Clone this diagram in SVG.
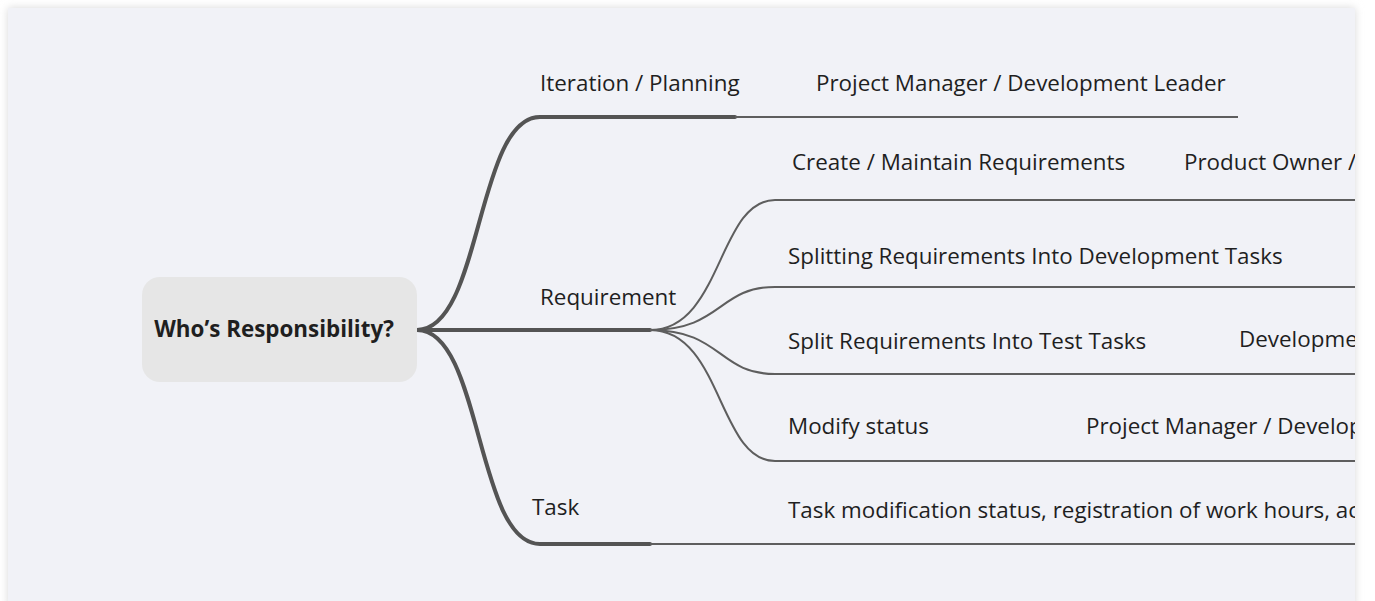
<svg xmlns="http://www.w3.org/2000/svg" width="1375" height="601" viewBox="0 0 1375 601">
<defs>
<style>
.t{font-family:"Open Sans","Noto Sans","DejaVu Sans",sans-serif;font-size:22.4px;fill:#1f1f1f}
.b{font-weight:bold;font-size:22.4px}
.thick{fill:none;stroke:#545454;stroke-width:4;stroke-linecap:round}
.thin{fill:none;stroke:#5e5e5e;stroke-width:2}
</style>
<clipPath id="clip"><rect x="8" y="8" width="1347" height="593"/></clipPath>
<filter id="sh" x="-5%" y="-5%" width="110%" height="110%"><feGaussianBlur stdDeviation="4"/></filter>
</defs>
<rect width="1375" height="601" fill="#ffffff"/>
<rect x="8" y="8" width="1347" height="600" fill="#d8d8d8" filter="url(#sh)"/>
<rect x="8" y="8" width="1347" height="600" fill="#f1f2f7"/>
<g clip-path="url(#clip)">
<g id="connectors">
<path class="thick" d="M417,330 C482,330 476,117 540,117 L735,117"/>
<path class="thin" d="M735,117 L1238,117"/>
<path class="thick" d="M417,330 L650,330"/>
<path class="thick" d="M417,330 C482,330 476,544 540,544 L650,544"/>
<path class="thin" d="M650,544 L1375,544"/>
<path class="thin" d="M650,330 C722,330 718,200 775,200 L1375,200"/>
<path class="thin" d="M650,330 C722,330 718,287 775,287 L1375,287"/>
<path class="thin" d="M650,330 C722,330 718,374 775,374 L1375,374"/>
<path class="thin" d="M650,330 C722,330 718,461 775,461 L1375,461"/>
</g>
<g id="root">
<rect x="142" y="277" width="275" height="105" rx="18" fill="#e6e6e6"/>
<text class="t b" x="274" y="337" text-anchor="middle">Who’s Responsibility?</text>
</g>
<g id="iteration">
<text class="t" x="540" y="91">Iteration / Planning</text>
</g>
<g id="iteration-owner">
<text class="t" x="816" y="91">Project Manager / Development Leader</text>
</g>
<g id="requirement">
<text class="t" x="540" y="305">Requirement</text>
</g>
<g id="req-create">
<text class="t" x="792" y="170">Create / Maintain Requirements</text>
<text class="t" x="1184" y="170">Product Owner /</text>
</g>
<g id="req-split-dev">
<text class="t" x="788" y="264">Splitting Requirements Into Development Tasks</text>
</g>
<g id="req-split-test">
<text class="t" x="788" y="349">Split Requirements Into Test Tasks</text>
<text class="t" x="1239" y="347">Developme</text>
</g>
<g id="req-modify">
<text class="t" x="788" y="434">Modify status</text>
<text class="t" x="1086" y="434">Project Manager / Develop</text>
</g>
<g id="task">
<text class="t" x="532" y="515">Task</text>
<text class="t" x="788" y="518">Task modification status, registration of work hours, ac</text>
</g>
</g>
</svg>
